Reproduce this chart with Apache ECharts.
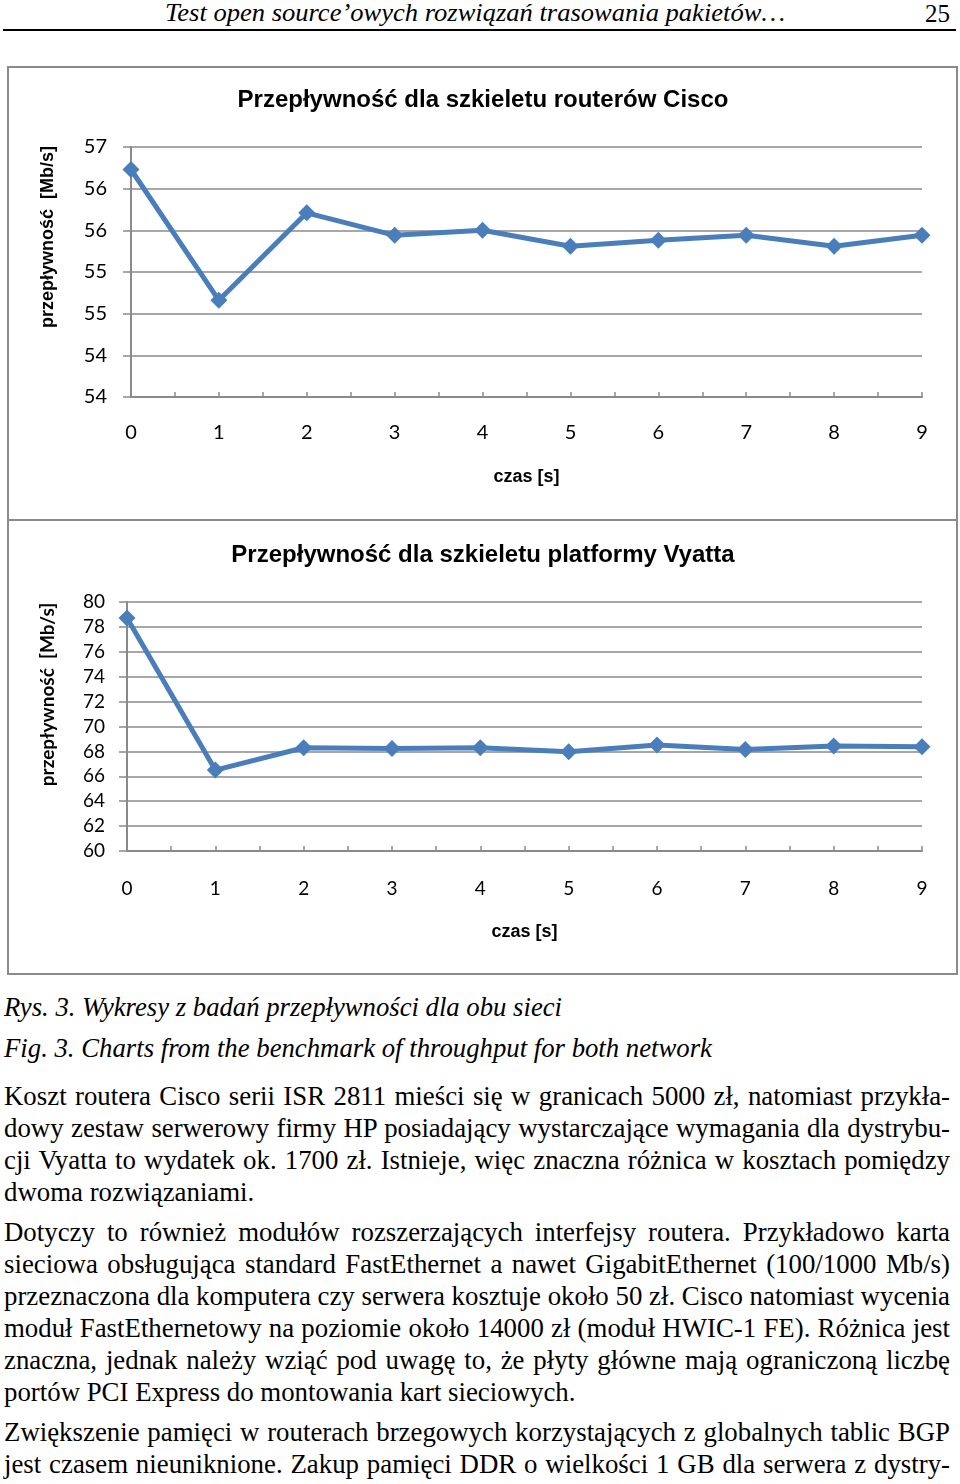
<!DOCTYPE html>
<html>
<head>
<meta charset="utf-8">
<script src="https://cdn.jsdelivr.net/npm/echarts@6/dist/echarts.min.js"></script>
<style>
  body { margin: 0; width: 960px; height: 1484px; background: #fff; position: relative; overflow: hidden; }
  .abs { position: absolute; }
  .serif { font-family: "Liberation Serif", "Times New Roman", Tinos, serif; color: #000; white-space: nowrap; }
  .fit { display: inline-block; transform-origin: 0 0; }
  #rule { left: 3px; top: 29px; width: 953px; height: 2px; background: #000; }
  #frame { left: 7px; top: 66px; width: 951px; height: 909px; border: 2px solid #8a8a8a; box-sizing: border-box; }
  #sep { left: 7px; top: 519px; width: 951px; height: 2px; background: #8a8a8a; }
  .ln { position: absolute; left: 4px; font-size: 27px; line-height: 32px; }
</style>
</head>
<body>
<div class="abs serif" style="left:165px; top:0px; font-size:25px; line-height:26px; font-style:italic;"><span class="fit" id="head" data-w="620">Test open source’owych rozwiązań trasowania pakietów…</span></div>
<div class="abs serif" style="left:925px; top:0px; font-size:25px; line-height:28px;">25</div>
<div class="abs" id="rule"></div>

<div class="abs" id="frame"></div>
<div class="abs" id="sep"></div>
<div class="abs" id="cisco" style="left:10px; top:68px; width:946px; height:451px;"></div>
<div class="abs" id="vyatta" style="left:10px; top:521px; width:946px; height:452px;"></div>

<div class="abs serif" style="left:4px; top:992px; font-size:27px; line-height:30px; font-style:italic;"><span class="fit" data-w="558">Rys. 3. Wykresy z badań przepływności dla obu sieci</span></div>
<div class="abs serif" style="left:4px; top:1033px; font-size:27px; line-height:30px; font-style:italic;"><span class="fit" data-w="708">Fig. 3. Charts from the benchmark of throughput for both network</span></div>

<div id="text"></div>

<script>
// dane
var czas = [0, 1, 2, 3, 4, 5, 6, 7, 8, 9]
var cisco = [56.23, 54.66, 55.71, 55.44, 55.50, 55.31, 55.38, 55.44, 55.31, 55.44]
var vyatta = [78.71, 66.50, 68.29, 68.24, 68.29, 67.97, 68.51, 68.16, 68.43, 68.37]
var cisco_ticks = { min: 53.5, max: 56.5, interval: 0.5 }
var vyatta_ticks = { min: 60, max: 80, interval: 2 }

var lines = [
  ['Koszt routera Cisco serii ISR 2811 mieści się w granicach 5000 zł, natomiast przykła-', 1080, true],
  ['dowy zestaw serwerowy firmy HP posiadający wystarczające wymagania dla dystrybu-', 1112, true],
  ['cji Vyatta to wydatek ok. 1700 zł. Istnieje, więc znaczna różnica w kosztach pomiędzy', 1144, true],
  ['dwoma rozwiązaniami.', 1176, false],
  ['Dotyczy to również modułów rozszerzających interfejsy routera. Przykładowo karta', 1216, true],
  ['sieciowa obsługująca standard FastEthernet a nawet GigabitEthernet (100/1000 Mb/s)', 1248, true],
  ['przeznaczona dla komputera czy serwera kosztuje około 50 zł. Cisco natomiast wycenia', 1280, true],
  ['moduł FastEthernetowy na poziomie około 14000 zł (moduł HWIC-1 FE). Różnica jest', 1312, true],
  ['znaczna, jednak należy wziąć pod uwagę to, że płyty główne mają ograniczoną liczbę', 1344, true],
  ['portów PCI Express do montowania kart sieciowych.', 1376, false],
  ['Zwiększenie pamięci w routerach brzegowych korzystających z globalnych tablic BGP', 1416, true],
  ['jest czasem nieuniknione. Zakup pamięci DDR o wielkości 1 GB dla serwera z dystry-', 1448, true]
]

var BLUE = '#4a7ebb'
var GRID = '#8a8a8a'
var TEXT_W = 946

function chartOption(title, yname, ticks, data, yfont, layout) {
  return {
    animation: false,
    title: {
      text: title,
      left: 'center',
      top: layout.titleTop,
      padding: 0,
      textStyle: { fontFamily: 'Liberation Sans', fontWeight: 'bold', fontSize: 24, color: '#000' }
    },
    grid: { left: layout.left, right: 34, top: layout.top, bottom: layout.bottom },
    xAxis: {
      type: 'value',
      min: 0,
      max: 9,
      interval: 1,
      name: 'czas [s]',
      nameLocation: 'middle',
      nameGap: layout.xNameGap,
      nameTextStyle: { fontFamily: 'Liberation Sans', fontWeight: 'bold', fontSize: 18, color: '#000' },
      axisLine: { lineStyle: { color: GRID, width: 2 } },
      axisTick: { inside: true, length: 5, lineStyle: { color: GRID, width: 1.5 } },
      minorTick: { show: true, splitNumber: 2, length: 5, lineStyle: { color: GRID, width: 1.5 } },
      splitLine: { show: false },
      axisLabel: { margin: layout.xMargin, fontFamily: 'Lato', fontSize: layout.labelSize, color: '#000' }
    },
    yAxis: {
      type: 'value',
      min: ticks.min,
      max: ticks.max,
      interval: ticks.interval,
      name: yname,
      nameLocation: 'middle',
      nameGap: layout.yNameGap,
      nameTextStyle: {
        fontFamily: yfont,
        fontWeight: 'bold',
        fontSize: layout.yNameSize,
        color: '#000',
        padding: [0, 0, 0, layout.yNameShift]
      },
      axisLine: { show: true, lineStyle: { color: GRID, width: 2 } },
      axisTick: { show: true, length: 8, lineStyle: { color: GRID, width: 1.5 } },
      splitLine: { lineStyle: { color: GRID, width: 1.5 } },
      axisLabel: {
        margin: layout.yMargin,
        fontFamily: 'Lato',
        fontSize: layout.labelSize,
        color: '#000',
        formatter: function(v) { return Math.round(v + 1e-9) }
      }
    },
    series: [{
      type: 'line',
      data: czas.map(function(t, i) { return [t, data[i]] }),
      symbol: 'diamond',
      symbolSize: 17,
      lineStyle: { color: BLUE, width: 5 },
      itemStyle: { color: BLUE }
    }]
  }
}

var cisco_chart = echarts.init(document.getElementById('cisco'))
cisco_chart.setOption(chartOption('Przepływność dla szkieletu routerów Cisco', 'przepływność  [Mb/s]', cisco_ticks, cisco, 'Liberation Sans', {
  titleTop: 20, left: 121, top: 79, bottom: 122, xNameGap: 71, xMargin: 26, yNameGap: 74, yNameShift: 70, yNameSize: 18, yMargin: 24, labelSize: 20
}))

var vyatta_chart = echarts.init(document.getElementById('vyatta'))
vyatta_chart.setOption(chartOption('Przepływność dla szkieletu platformy Vyatta', 'przepływność  [Mb/s]', vyatta_ticks, vyatta, 'Lato', {
  titleTop: 22, left: 117, top: 81, bottom: 122, xNameGap: 72, xMargin: 28, yNameGap: 70, yNameShift: 64, yNameSize: 19, yMargin: 22, labelSize: 19
}))

// naglowek i podpisy - sciskanie do szerokosci z oryginalu
document.querySelectorAll('.fit').forEach(function(el) {
  var w = el.getBoundingClientRect().width
  el.style.transform = 'scaleX(' + (el.dataset.w / w) + ')'
})

// akapity wyjustowane linia po linii
var box = document.getElementById('text')
var els = lines.map(function(l) {
  var d = document.createElement('div')
  d.className = 'ln serif'
  d.style.top = l[1] + 'px'
  var s = document.createElement('span')
  s.className = 'fit'
  s.textContent = l[0]
  d.appendChild(s)
  box.appendChild(d)
  return s
})
var scale = 10
els.forEach(function(s, i) {
  if (lines[i][2]) scale = Math.min(scale, TEXT_W / s.getBoundingClientRect().width)
})
els.forEach(function(s, i) {
  var w = s.getBoundingClientRect().width
  if (lines[i][2]) {
    var n = (lines[i][0].match(/ /g) || []).length
    s.style.wordSpacing = ((TEXT_W / scale - w) / n) + 'px'
  }
  s.style.transform = 'scaleX(' + scale + ')'
})
</script>
</body>
</html>
